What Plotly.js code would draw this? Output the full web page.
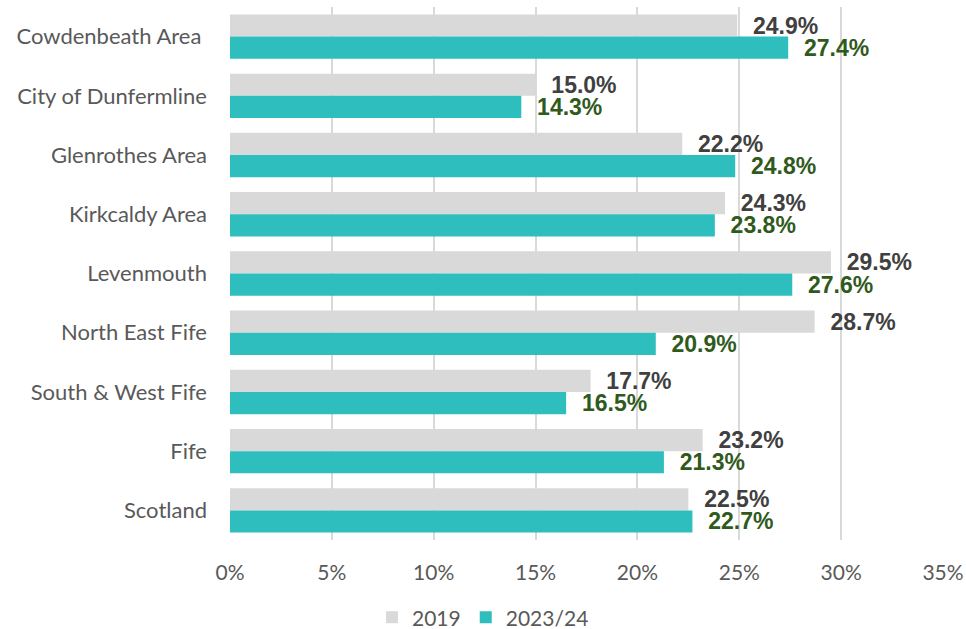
<!DOCTYPE html>
<html>
<head>
<meta charset="utf-8">
<script src="https://cdn.plot.ly/plotly-3.0.1.min.js"></script>
<style>html,body{margin:0;padding:0;background:#fff}#chart{width:966px;height:629px}</style>
</head>
<body>
<div id="chart"></div>
<script>
const categories = ["Cowdenbeath Area ", "City of Dunfermline", "Glenrothes Area", "Kirkcaldy Area", "Levenmouth", "North East Fife", "South & West Fife", "Fife", "Scotland"];
const values2019 = [24.9, 15.0, 22.2, 24.3, 29.5, 28.7, 17.7, 23.2, 22.5];
const values2023 = [27.4, 14.3, 24.8, 23.8, 27.6, 20.9, 16.5, 21.3, 22.7];
const seriesNames = ["2019", "2023/24"];
const tickVals = [0, 5, 10, 15, 20, 25, 30, 35];
const tickLabels = ["0%", "5%", "10%", "15%", "20%", "25%", "30%", "35%"];

const labelFont = {family: "Liberation Sans, Arial, sans-serif", size: 23};
const traces = [
  {type: "bar", orientation: "h", name: seriesNames[0], y: categories, x: values2019,
   marker: {color: "#D9D9D9"},
   texttemplate: "\u00a0\u00a0%{x:.1f}%", textposition: "outside", constraintext: "none", cliponaxis: false,
   textfont: Object.assign({}, labelFont, {color: "#404040", weight: "bold"}), hoverinfo: "skip"},
  {type: "bar", orientation: "h", name: seriesNames[1], y: categories, x: values2023,
   marker: {color: "#2EBEBD"},
   texttemplate: "\u00a0\u00a0%{x:.1f}%", textposition: "outside", constraintext: "none", cliponaxis: false,
   textfont: Object.assign({}, labelFont, {color: "#2F5A1C", weight: "bold"}), hoverinfo: "skip"}
];

const layout = {
  width: 966, height: 629,
  margin: {l: 230, r: 23, t: 7, b: 89},
  paper_bgcolor: "#fff", plot_bgcolor: "#fff",
  barmode: "group", bargap: 0.25, bargroupgap: 0,
  font: {family: "Lato, Carlito, Calibri, sans-serif", color: "#595959", size: 20},
  xaxis: {range: [0, 35], tickmode: "array", tickvals: tickVals, ticktext: tickLabels, showgrid: true, gridcolor: "#D9D9D9", gridwidth: 2,
          zeroline: false, showline: false, ticks: "", tickfont: {size: 21, color: "#595959"}, ticklabelstandoff: 18, fixedrange: true},
  yaxis: {type: "category", autorange: "reversed", showgrid: false, zeroline: false, showline: false, ticks: "",
          tickfont: {size: 22, color: "#595959"}, ticklabelstandoff: 22, fixedrange: true},
  showlegend: true,
  legend: {orientation: "h", xref: "container", yref: "container", x: 0.5, xanchor: "center", y: 0.018, yanchor: "middle",
           font: {size: 21, color: "#595959"}, traceorder: "normal", itemwidth: 30},
};
Plotly.newPlot("chart", traces, layout, {displayModeBar: false, staticPlot: true});
</script>
</body>
</html>
